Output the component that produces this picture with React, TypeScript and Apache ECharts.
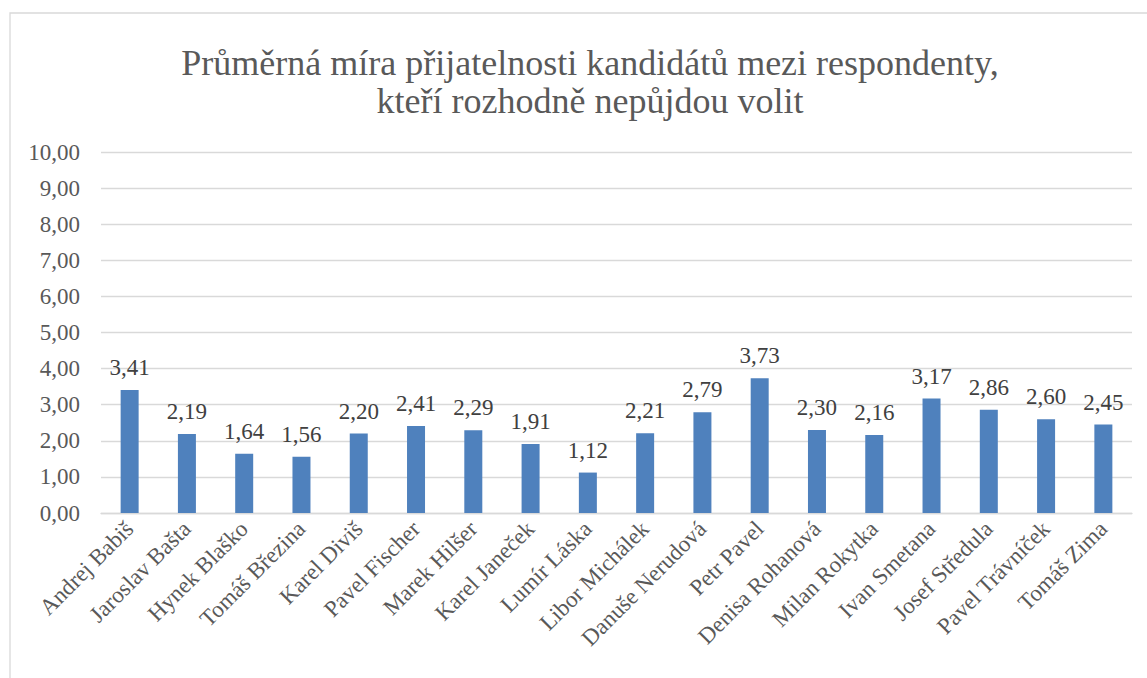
import React, { useEffect, useRef } from "react";
import * as echarts from "echarts";

const categories = [
  "Andrej Babiš",
  "Jaroslav Bašta",
  "Hynek Blaško",
  "Tomáš Březina",
  "Karel Diviš",
  "Pavel Fischer",
  "Marek Hilšer",
  "Karel Janeček",
  "Lumír Láska",
  "Libor Michálek",
  "Danuše Nerudová",
  "Petr Pavel",
  "Denisa Rohanová",
  "Milan Rokytka",
  "Ivan Smetana",
  "Josef Středula",
  "Pavel Trávníček",
  "Tomáš Zima",
];
const values = [3.41, 2.19, 1.64, 1.56, 2.2, 2.41, 2.29, 1.91, 1.12, 2.21, 2.79, 3.73, 2.3, 2.16, 3.17, 2.86, 2.6, 2.45];
const titleText = "Průměrná míra přijatelnosti kandidátů mezi respondenty,\nkteří rozhodně nepůjdou volit";

const FONT = "Liberation Serif";
const fmt = (v: number) => v.toFixed(2).replace(".", ",");

export default function App() {
  const ref = useRef<HTMLDivElement>(null);
  useEffect(() => {
    if (!ref.current) return;
    const chart = echarts.init(ref.current, null, { renderer: "svg" });
    chart.setOption({
      animation: false,
      backgroundColor: "#ffffff",
      graphic: [
        {
          type: "rect",
          shape: { x: 10, y: 13, width: 1160, height: 700 },
          style: { fill: "none", stroke: "#D9D9D9", lineWidth: 1.3 },
          silent: true,
        },
      ],
      title: {
        text: titleText,
        left: 585,
        textAlign: "center",
        top: 39,
        textStyle: {
          fontFamily: FONT,
          fontSize: 36,
          fontWeight: "normal",
          color: "#595959",
          lineHeight: 38,
        },
      },
      grid: { left: 101, right: 15, top: 152, bottom: 165, containLabel: false },
      xAxis: {
        type: "category",
        data: categories,
        axisLine: { show: true, lineStyle: { color: "#D9D9D9", width: 1.3 } },
        axisTick: { show: false },
        axisLabel: {
          rotate: 45,
          interval: 0,
          margin: 12,
          fontFamily: FONT,
          fontSize: 23,
          color: "#595959",
        },
      },
      yAxis: {
        type: "value",
        min: 0,
        max: 10,
        interval: 1,
        axisLine: { show: false },
        axisTick: { show: false },
        splitLine: { lineStyle: { color: "#D9D9D9", width: 1.3 } },
        axisLabel: {
          formatter: (v: number) => fmt(v),
          margin: 21,
          fontFamily: FONT,
          fontSize: 23,
          color: "#595959",
        },
      },
      series: [
        {
          type: "bar",
          data: values,
          barWidth: 18,
          itemStyle: { color: "#4F81BD" },
          label: {
            show: true,
            position: "top",
            distance: 11,
            formatter: (p: any) => fmt(p.value),
            fontFamily: FONT,
            fontSize: 23,
            color: "#404040",
          },
        },
      ],
    });
    return () => chart.dispose();
  }, []);
  return <div ref={ref} style={{ width: 1147, height: 678, position: "absolute", left: 0, top: 0 }} />;
}
